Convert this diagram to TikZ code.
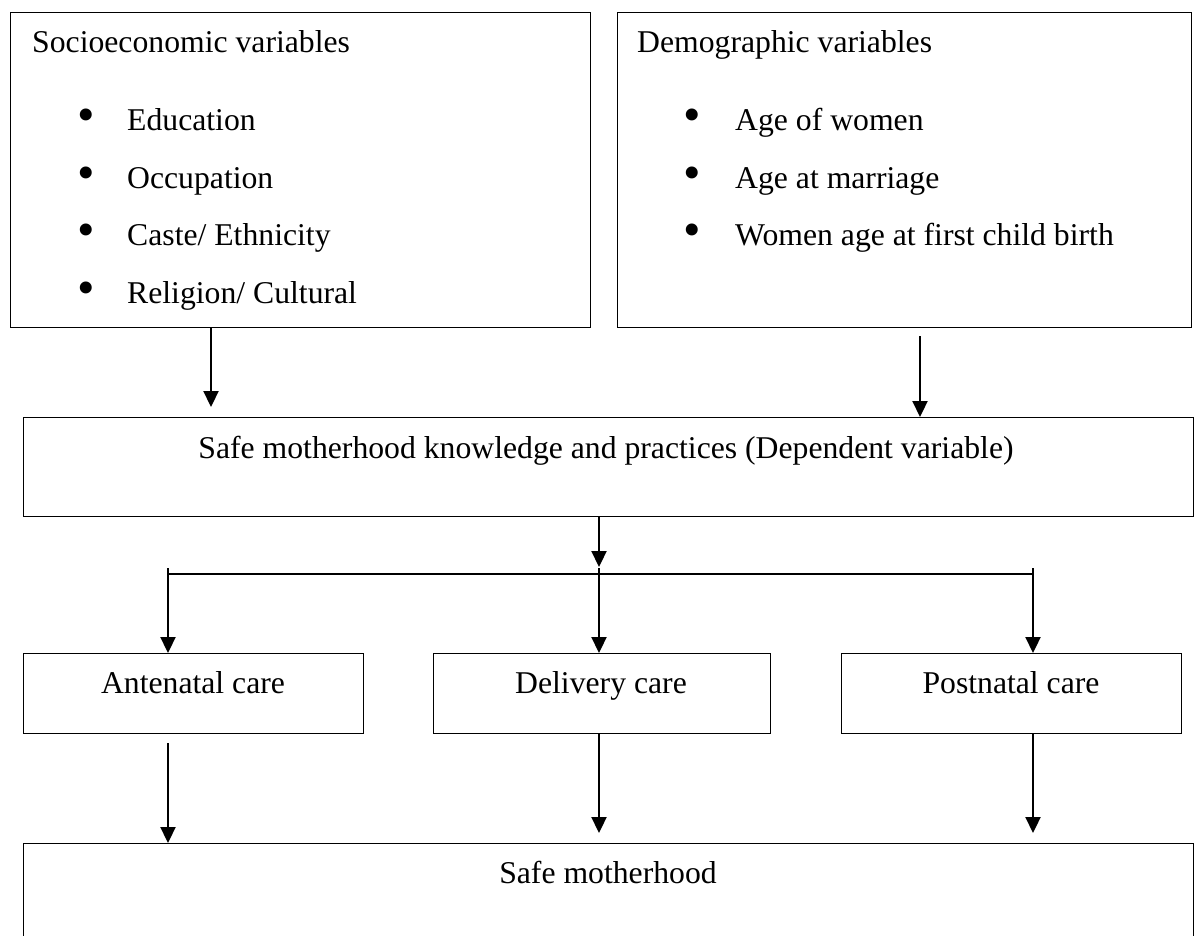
\documentclass[tikz,border=0pt]{standalone}
\usepackage{fontspec}
\setmainfont{Liberation Serif}
\usetikzlibrary{arrows.meta}
\begin{document}
\begin{tikzpicture}[x=1pt,y=-1pt,
  box/.style={draw=black,line width=1.3pt,inner sep=0pt,anchor=north west},
  txt/.style={inner sep=0pt,font=\fontsize{31.7}{38}\selectfont},
  bul/.style={inner sep=0pt,anchor=center,font=\fontsize{50}{50}\selectfont},
  arr/.style={line width=2.2pt,-{Triangle[length=16pt,width=15pt]}},
  bus/.style={line width=1.3pt}]
\useasboundingbox (0,0) rectangle (1201,935);
% boxes
\node[box,minimum width=580pt,minimum height=315pt] (b1) at (10,12) {};
\node[box,minimum width=574pt,minimum height=315pt] (b2) at (617,12) {};
\node[box,minimum width=1170pt,minimum height=99pt] (b3) at (23,417) {};
\node[box,minimum width=340pt,minimum height=80pt] (ante) at (23,653) {};
\node[box,minimum width=337pt,minimum height=80pt] (deli) at (433,653) {};
\node[box,minimum width=340pt,minimum height=80pt] (post) at (841,653) {};
\node[box,minimum width=1170pt,minimum height=93pt] (safe) at (23,843) {};
% texts box 1
\node[txt,anchor=base west] (t1) at (32,52) {Socioeconomic variables};
\node[bul] (u11) at (86,120) {•};
\node[txt,anchor=base west] (t11) at (127,130) {Education};
\node[bul] (u12) at (86,178) {•};
\node[txt,anchor=base west] (t12) at (127,188) {Occupation};
\node[bul] (u13) at (86,235) {•};
\node[txt,anchor=base west] (t13) at (127,245) {Caste/ Ethnicity};
\node[bul] (u14) at (86,293) {•};
\node[txt,anchor=base west] (t14) at (127,303) {Religion/ Cultural};
% texts box 2
\node[txt,anchor=base west] (t2) at (637,52) {Demographic variables};
\node[bul] (u21) at (692,120) {•};
\node[txt,anchor=base west] (t21) at (735,130) {Age of women};
\node[bul] (u22) at (692,178) {•};
\node[txt,anchor=base west] (t22) at (735,188) {Age at marriage};
\node[bul] (u23) at (692,235) {•};
\node[txt,anchor=base west] (t23) at (735,245) {Women age at first child birth};
% other texts
\node[txt,anchor=base] (t3) at (606,458) {Safe motherhood knowledge and practices (Dependent variable)};
\node[txt,anchor=base] (ta) at (193,693) {Antenatal care};
\node[txt,anchor=base] (td) at (601,693) {Delivery care};
\node[txt,anchor=base] (tp) at (1011,693) {Postnatal care};
\node[txt,anchor=base] (ts) at (608,883) {Safe motherhood};
% coordinates
\coordinate (c1) at (211,407);
\coordinate (c2) at (920,336);
\coordinate (cm) at (599,567);
\coordinate (bl) at (168,568);
\coordinate (bm) at (599,568);
\coordinate (br) at (1033,568);
\coordinate (busl) at (168,574);
\coordinate (busr) at (1033,574);
\coordinate (ll) at (168,743);
\coordinate (lm) at (599,833);
\coordinate (lr) at (1033,833);
% connectors
\draw[arr] (b1.south -| c1) -- (c1);
\draw[arr] (c2) -- (b3.north -| c2);
\draw[arr] (b3.south -| cm) -- (cm);
\draw[bus] (busl) -- (busr);
\draw[arr] (bl) -- (ante.north -| bl);
\draw[arr] (bm) -- (deli.north -| bm);
\draw[arr] (br) -- (post.north -| br);
\draw[arr] (ll) -- (safe.north -| ll);
\draw[arr] (deli.south -| lm) -- (lm);
\draw[arr] (post.south -| lr) -- (lr);
\end{tikzpicture}
\end{document}
